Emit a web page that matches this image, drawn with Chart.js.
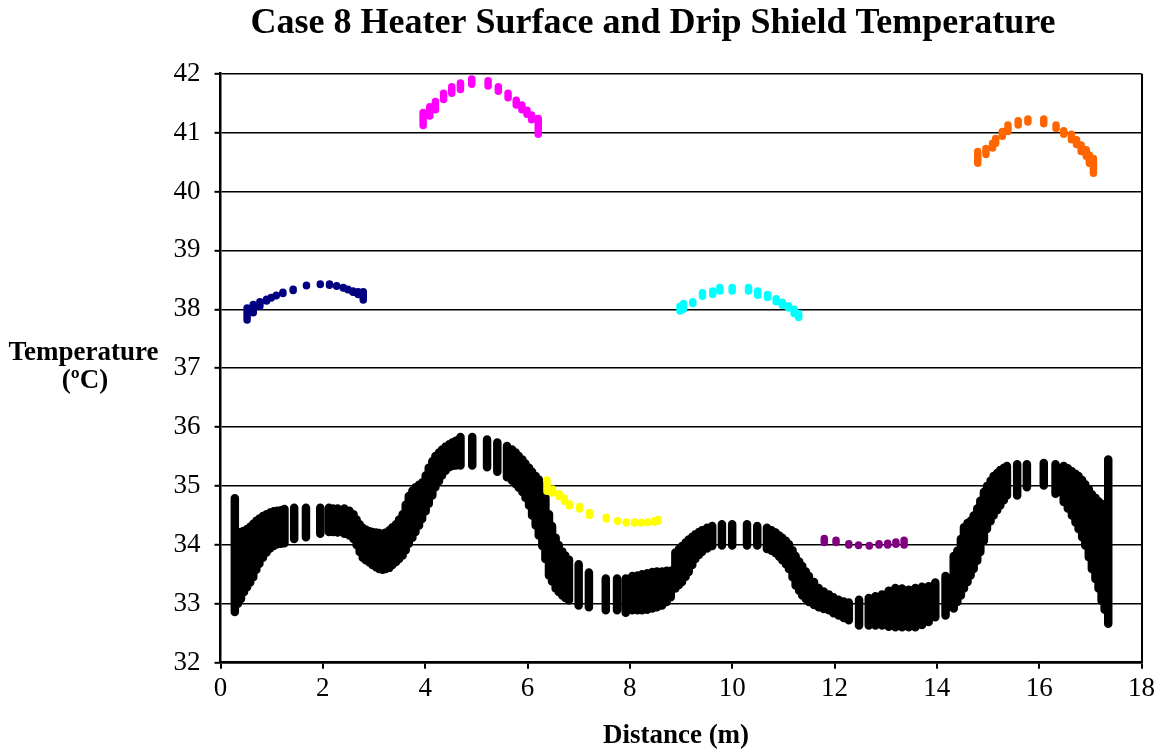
<!DOCTYPE html>
<html><head><meta charset="utf-8">
<script src="https://cdn.jsdelivr.net/npm/chart.js@4.4.1/dist/chart.umd.min.js"></script>
<style>html,body{margin:0;padding:0;background:#fff;}#wrap{width:1159px;height:749px;}</style>
</head><body><div id="wrap"><canvas id="c" width="1159" height="749"></canvas></div>
<script>
const chartTitle = 'Case 8 Heater Surface and Drip Shield Temperature';
const yTitleLines = ['Temperature', '(\u00baC)'];
const xTitle = 'Distance (m)';
const xTicks = [0, 2, 4, 6, 8, 10, 12, 14, 16, 18];
const yTicks = [32, 33, 34, 35, 36, 37, 38, 39, 40, 41, 42];

// Drift wall (black band): column positions with low / high temperature
const blackX = [0.28,0.34,0.40,0.46,0.52,0.58,0.64,0.70,0.76,0.83,0.90,0.97,1.04,1.11,1.18,
 1.25,1.44,1.67,1.95,2.12,2.20,2.29,2.42,2.52,
 2.60,2.66,2.72,2.78,2.84,2.91,2.97,3.04,3.10,3.17,3.23,3.30,3.36,3.43,3.49,3.56,3.62,3.68,3.75,3.81,3.88,3.94,4.01,4.07,4.14,4.20,4.27,4.33,4.40,4.47,4.53,4.60,
 4.69,4.92,5.21,5.41,5.60,
 5.70,5.77,5.83,5.90,5.96,6.03,6.09,6.16,6.22,6.29,6.35,6.42,6.48,6.55,6.61,6.68,6.74,6.81,
 7.00,7.20,7.53,7.75,7.92,
 8.05,8.15,8.24,8.34,8.44,8.53,8.63,8.72,8.80,8.89,8.96,9.02,9.09,9.15,9.22,9.28,9.35,9.41,9.51,
 9.61,9.80,10.00,10.29,10.49,10.68,
 10.77,10.85,10.92,10.98,11.05,11.11,11.18,11.24,11.31,11.37,11.44,11.50,11.60,11.69,11.79,11.89,11.98,12.08,12.18,12.28,
 12.48,12.67,
 12.80,12.93,13.06,13.19,13.32,13.45,13.58,13.71,13.84,13.97,14.17,
 14.33,14.40,14.47,14.53,14.60,14.66,14.72,14.79,14.85,14.92,14.98,15.05,15.11,15.18,15.24,15.31,15.37,
 15.57,15.76,16.09,16.32,16.48,
 16.56,16.64,16.71,16.77,16.84,16.90,16.97,17.03,17.10,17.16,17.22,17.28,17.35];
const blackLo = [32.86,33.00,33.08,33.20,33.28,33.36,33.45,33.58,33.68,33.78,33.87,33.94,33.98,34.01,34.02,
 34.03,34.10,34.13,34.19,34.22,34.22,34.21,34.19,34.16,
 34.10,34.00,33.88,33.78,33.74,33.70,33.66,33.62,33.59,33.58,33.59,33.61,33.66,33.71,33.76,33.82,33.91,34.02,34.12,34.22,34.33,34.44,34.57,34.70,34.84,34.98,35.08,35.18,35.26,35.32,35.34,35.35,
 35.35,35.35,35.32,35.24,35.15,
 35.09,35.03,34.97,34.90,34.80,34.67,34.50,34.33,34.16,33.98,33.76,33.48,33.38,33.26,33.20,33.14,33.10,33.06,
 32.97,32.94,32.89,32.89,32.85,
 32.89,32.89,32.89,32.90,32.92,32.94,32.97,33.03,33.11,33.26,33.32,33.37,33.46,33.54,33.66,33.76,33.83,33.88,33.94,
 33.98,33.99,33.99,33.99,33.99,33.93,
 33.90,33.86,33.80,33.74,33.67,33.59,33.45,33.31,33.22,33.14,33.08,33.03,32.98,32.94,32.91,32.89,32.84,32.80,32.76,32.72,
 32.63,32.63,
 32.63,32.63,32.61,32.60,32.60,32.60,32.60,32.64,32.69,32.77,32.80,
 32.92,33.03,33.14,33.26,33.37,33.48,33.59,33.73,33.88,34.07,34.27,34.40,34.50,34.59,34.67,34.76,34.84,
 34.84,34.98,35.01,34.87,34.73,
 34.62,34.50,34.38,34.27,34.13,33.99,33.79,33.59,33.42,33.26,33.05,32.90,32.66];
const blackHi = [34.79,34.22,34.22,34.24,34.27,34.31,34.36,34.41,34.45,34.49,34.52,34.55,34.57,34.58,34.59,
 34.61,34.63,34.63,34.63,34.63,34.62,34.62,34.62,34.58,
 34.52,34.43,34.35,34.29,34.26,34.23,34.22,34.21,34.20,34.19,34.21,34.25,34.30,34.35,34.43,34.52,34.68,34.83,34.92,34.98,35.02,35.06,35.18,35.31,35.42,35.51,35.57,35.62,35.67,35.71,35.74,35.77,
 35.83,35.83,35.79,35.74,35.68,
 35.62,35.57,35.51,35.45,35.38,35.31,35.24,35.17,35.11,35.00,34.80,34.52,34.32,34.12,34.00,33.89,33.82,33.75,
 33.67,33.53,33.43,33.43,33.43,
 33.47,33.48,33.50,33.52,33.54,33.55,33.55,33.56,33.56,33.87,33.93,33.98,34.04,34.09,34.14,34.18,34.22,34.25,34.29,
 34.32,34.35,34.35,34.35,34.32,34.29,
 34.25,34.21,34.16,34.12,34.07,34.01,33.91,33.81,33.72,33.64,33.55,33.47,33.37,33.27,33.21,33.16,33.11,33.07,33.04,33.02,
 33.07,33.10,
 33.13,33.16,33.22,33.27,33.26,33.24,33.27,33.29,33.30,33.36,33.47,
 33.81,33.90,34.10,34.30,34.37,34.41,34.50,34.62,34.75,34.90,35.00,35.09,35.17,35.22,35.27,35.31,35.34,
 35.37,35.37,35.39,35.37,35.34,
 35.30,35.25,35.21,35.17,35.10,35.03,34.95,34.86,34.80,34.74,34.70,34.69,35.45];

// Heater surfaces and drip shield points: x, low, high
const blueX = [0.52,0.64,0.77,0.90,0.99,1.09,1.22,1.42,1.68,1.95,2.13,2.27,2.40,2.49,2.59,2.69,2.79];
const blueLo = [37.82,37.94,38.05,38.14,38.19,38.23,38.27,38.32,38.40,38.42,38.41,38.39,38.36,38.33,38.29,38.25,38.16];
const blueHi = [38.02,38.08,38.13,38.17,38.20,38.24,38.29,38.34,38.41,38.43,38.43,38.40,38.37,38.34,38.31,38.30,38.30];

const pinkX = [3.96,4.09,4.20,4.36,4.52,4.69,4.91,5.23,5.43,5.62,5.78,5.89,5.99,6.08,6.21];
const pinkLo = [41.12,41.28,41.39,41.56,41.67,41.73,41.82,41.79,41.70,41.59,41.47,41.39,41.31,41.22,40.97];
const pinkHi = [41.34,41.44,41.53,41.67,41.78,41.84,41.91,41.88,41.78,41.67,41.55,41.47,41.38,41.30,41.24];

const cyanX = [8.98,9.05,9.23,9.42,9.62,9.76,10.00,10.32,10.50,10.69,10.86,10.98,11.10,11.21,11.30];
const cyanLo = [37.97,38.00,38.10,38.22,38.25,38.31,38.31,38.31,38.24,38.20,38.13,38.07,38.02,37.93,37.86];
const cyanHi = [38.05,38.10,38.13,38.28,38.31,38.37,38.37,38.37,38.31,38.25,38.18,38.12,38.06,38.00,37.93];

const orangeX = [14.80,14.96,15.09,15.15,15.28,15.39,15.59,15.78,16.09,16.33,16.48,16.63,16.73,16.82,16.92,16.98,17.06];
const orangeLo = [40.48,40.63,40.74,40.82,40.94,41.02,41.13,41.18,41.15,41.07,40.97,40.88,40.80,40.68,40.60,40.48,40.31];
const orangeHi = [40.68,40.73,40.82,40.90,41.02,41.13,41.20,41.23,41.23,41.13,41.03,40.97,40.88,40.79,40.71,40.62,40.56];

const yellowX = [6.38,6.49,6.62,6.72,6.82,7.02,7.21,7.54,7.76,7.93,8.09,8.22,8.35,8.48,8.55];
const yellowLo = [34.91,34.88,34.82,34.74,34.66,34.61,34.50,34.44,34.40,34.37,34.37,34.37,34.38,34.39,34.40];
const yellowHi = [35.10,34.95,34.87,34.79,34.70,34.65,34.55,34.47,34.41,34.39,34.39,34.38,34.39,34.41,34.43];

const purpleX = [11.80,12.03,12.28,12.47,12.68,12.87,13.04,13.20,13.36];
const purpleLo = [34.04,34.04,34.00,33.99,33.98,34.00,34.00,34.01,34.00];
const purpleHi = [34.11,34.08,34.02,34.00,33.99,34.02,34.03,34.05,34.08];

function columns(xs, lo, hi) {
  const out = [];
  for (let i = 0; i < xs.length; i++) {
    out.push({x: xs[i], y: lo[i]}, {x: xs[i], y: hi[i]}, {x: xs[i], y: null});
  }
  return out;
}
function series(xs, lo, hi, color, width, order) {
  return {
    data: columns(xs, lo, hi), showLine: true, spanGaps: false,
    borderColor: color, backgroundColor: color, borderWidth: width,
    borderCapStyle: 'round', borderJoinStyle: 'round',
    pointRadius: 0, pointHoverRadius: 0, pointHitRadius: 0, order: order
  };
}

const SERIF = '"Liberation Serif", "Times New Roman", serif';
const textPlugin = {
  id: 'texts',
  afterDraw(chart) {
    const ctx = chart.ctx;
    ctx.save();
    ctx.fillStyle = '#000';
    ctx.textAlign = 'center';
    ctx.textBaseline = 'alphabetic';
    ctx.font = 'bold 36px ' + SERIF;
    ctx.fillText(chartTitle, 653, 33);
    ctx.font = 'bold 27px ' + SERIF;
    ctx.fillText(yTitleLines[0], 83.5, 360);
    ctx.fillText(yTitleLines[1], 85, 388);
    ctx.fillText(xTitle, 676, 743);
    ctx.restore();
  }
};

new Chart(document.getElementById('c'), {
  type: 'scatter',
  data: {
    datasets: [
      series(blueX, blueLo, blueHi, '#000080', 7.5, 1),
      series(pinkX, pinkLo, pinkHi, '#FF00FF', 7.5, 1),
      series(cyanX, cyanLo, cyanHi, '#00FFFF', 7.5, 1),
      series(orangeX, orangeLo, orangeHi, '#FF6600', 7.5, 1),
      series(yellowX, yellowLo, yellowHi, '#FFFF00', 7.5, 1),
      series(purpleX, purpleLo, purpleHi, '#800080', 7.5, 1),
      series(blackX, blackLo, blackHi, '#000000', 8.5, 5)
    ]
  },
  options: {
    responsive: false, animation: false, devicePixelRatio: 1,
    layout: {padding: {left: 0, right: 16.3, top: 73.7, bottom: 0}},
    plugins: {legend: {display: false}, tooltip: {enabled: false}, title: {display: false}},
    scales: {
      x: {
        type: 'linear', min: xTicks[0], max: xTicks[xTicks.length - 1],
        afterBuildTicks: s => { s.ticks = xTicks.map(v => ({value: v})); },
        ticks: {color: '#000', font: {family: SERIF, size: 27}, padding: 4, maxRotation: 0, autoSkip: false},
        grid: {
          color: c => (c.tick && c.tick.value === 18) ? '#000' : 'rgba(0,0,0,0)',
          lineWidth: 2, drawOnChartArea: true, tickLength: 6, tickColor: '#000', tickWidth: 2
        },
        border: {color: '#000', width: 2.5},
        afterFit: s => { s.height = 86.3; }
      },
      y: {
        type: 'linear', min: yTicks[0], max: yTicks[yTicks.length - 1],
        afterBuildTicks: s => { s.ticks = yTicks.map(v => ({value: v})); },
        ticks: {color: '#000', font: {family: SERIF, size: 27}, padding: 14, autoSkip: false},
        grid: {color: '#000', lineWidth: 1.6, tickLength: 6, tickColor: '#000', tickWidth: 2},
        border: {color: '#000', width: 2.5},
        afterFit: s => { s.width = 220.5; }
      }
    }
  },
  plugins: [textPlugin]
});
</script></body></html>
